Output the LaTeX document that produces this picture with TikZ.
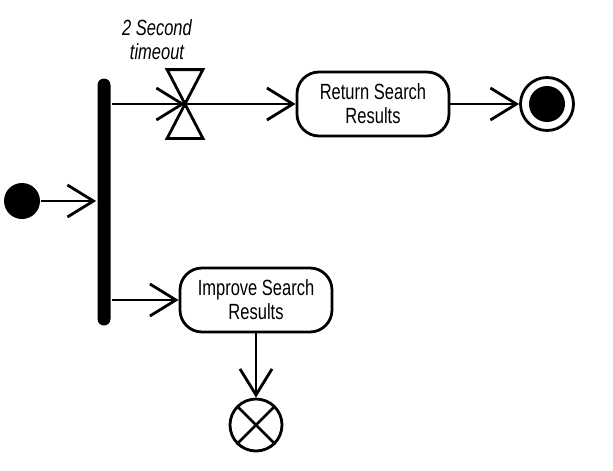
\documentclass[tikz,border=0pt]{standalone}
\usepackage{fontspec}
\setmainfont[FakeStretch=0.75]{Liberation Sans}
\usetikzlibrary{arrows.meta}

\begin{document}
\begin{tikzpicture}[x=1pt, y=-1pt, line width=2.8pt, font=\fontsize{22}{24}\selectfont,
    act/.style={draw, rounded corners=22pt, minimum width=152pt, minimum height=64pt, align=center, inner sep=2pt},
    flow/.style={-{Straight Barb[length=26pt,width=32pt]}}]
        \useasboundingbox (0,0) rectangle (613,471);
        \node[circle, fill, minimum size=36pt, inner sep=0pt] (start) at (22,201) {};
        \node[fill, rounded corners=6.5pt, minimum width=13pt, minimum height=247pt, inner sep=0pt] (fork) at (104,202) {};
        \node[minimum width=33pt, minimum height=66pt, inner sep=0pt] (timer) at (185,104) {};
        \node[font=\fontsize{22}{24}\selectfont\itshape, align=center] (timerlabel) at (157,40) {2 Second\\timeout};
        \node[act] (ret) at (373,104) {Return Search\\Results};
        \node[circle, draw, minimum size=53pt, inner sep=0pt] (final) at (547,104) {};
        \node[act] (imp) at (256,300) {Improve Search\\Results};
        \node[circle, draw, minimum size=52pt, inner sep=0pt] (flowend) at (256,425) {};
        \draw (timer.north west) -- (timer.north east) -- (timer.south west) -- (timer.south east) -- cycle;
        \fill (final) circle (18pt);
        \draw (flowend.north west) -- (flowend.south east) (flowend.north east) -- (flowend.south west);
        \draw[flow] (start) -- (start -| fork.west);
        \draw[flow] (fork.east |- timer) -- (timer.center);
        \draw[flow] (timer.center) -- (ret);
        \draw[flow] (ret) -- (final);
        \draw[flow] (fork.east |- imp) -- (imp);
        \draw[flow] (imp) -- (flowend);
    \end{tikzpicture}
\end{document}
